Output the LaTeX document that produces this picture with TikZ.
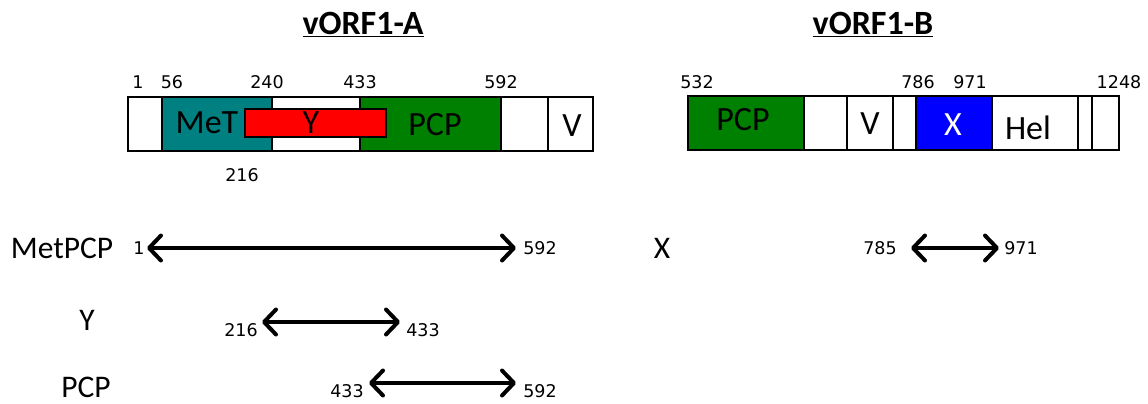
\documentclass[tikz,border=0pt]{standalone}
\usepackage{fontspec}
\setmainfont{Carlito}
\newfontfamily\numfont{DejaVu Sans}
\usetikzlibrary{arrows.meta}
\definecolor{metc}{RGB}{0,128,128}
\definecolor{pcpc}{RGB}{0,128,0}
\definecolor{yc}{RGB}{255,0,0}
\definecolor{xc}{RGB}{0,0,255}
\begin{document}
\begin{tikzpicture}[x=1pt,y=-1pt,
  seg/.style={draw=black, line width=1.1pt, inner sep=0pt, outer sep=0pt, anchor=north west, minimum height=54pt},
  num/.style={font=\numfont\fontsize{17.5}{20}\selectfont, inner sep=0pt},
  boxtxt/.style={font=\fontsize{34}{38}\selectfont, inner sep=0pt},
  rowlbl/.style={font=\fontsize{31.5}{36}\selectfont, inner sep=0pt},
  title/.style={font=\bfseries\fontsize{34}{40}\selectfont, inner sep=0pt, anchor=base},
  barb/.tip={Straight Barb[length=12pt,width=25pt,line cap=round,line join=round]},
  spanarrow/.style={line width=4pt, barb-barb}]
\useasboundingbox (0,0) rectangle (1148,404);

% titles
\node[title] (tA) at (363,35) {\underline{vORF1-A}};
\node[title] (tB) at (873,35) {\underline{vORF1-B}};

% vORF1-A segments
\node[seg, minimum width=34pt] (a0) at (128,97) {};
\node[seg, minimum width=110pt, fill=metc] (a1) at (162,97) {};
\node[seg, minimum width=88pt] (a2) at (272,97) {};
\node[seg, minimum width=141pt, fill=pcpc] (a3) at (360,97) {};
\node[seg, minimum width=47pt] (a4) at (501,97) {};
\node[seg, minimum width=45pt] (a5) at (548,97) {};
\node[seg, minimum width=141pt, minimum height=28pt, fill=yc] (ay) at (245,109) {};
\node[boxtxt] (tMeT) at (207,123) {MeT};
\node[boxtxt] (tY) at (311,123) {Y};
\node[boxtxt] (tPCPa) at (435,125) {PCP};
\node[boxtxt] (tVa) at (572,126) {V};

\node[num] (pa1) at (138,82) {1};
\node[num] (pa56) at (172,82) {56};
\node[num] (pa240) at (267,82) {240};
\node[num] (pa433) at (360,82) {433};
\node[num] (pa592) at (501,82) {592};
\node[num] (pa216) at (242,175) {216};

% vORF1-B segments
\node[seg, minimum width=116pt, fill=pcpc] (b0) at (688,96) {};
\node[seg, minimum width=43pt] (b1) at (804,96) {};
\node[seg, minimum width=46pt] (b2) at (847,96) {};
\node[seg, minimum width=23pt] (b3) at (893,96) {};
\node[seg, minimum width=76pt, fill=xc] (b4) at (916,96) {};
\node[seg, minimum width=86pt] (b5) at (992,96) {};
\node[seg, minimum width=14pt] (b6) at (1078,96) {};
\node[seg, minimum width=27pt] (b7) at (1092,96) {};
\node[boxtxt] (tPCPb) at (743,120) {PCP};
\node[boxtxt] (tVb) at (870,124) {V};
\node[boxtxt, text=white] (tX) at (953,125) {X};
\node[boxtxt] (tHel) at (1028,128) {Hel};

\node[num] (pb532) at (697,82) {532};
\node[num] (pb786) at (918,82) {786};
\node[num] (pb971) at (970,82) {971};
\node[num] (pb1248) at (1119,82) {1248};

% row labels
\node[rowlbl] (lMet) at (62,248) {MetPCP};
\node[rowlbl] (lY) at (87,320) {Y};
\node[rowlbl] (lPCP) at (86,387) {PCP};
\node[rowlbl] (lX) at (662,248) {X};

% spans
\node[num] (s1) at (139,248) {1};
\node[num] (s592a) at (540,248) {592};
\coordinate (m1) at (147,248);
\coordinate (m2) at (516,248);
\draw[spanarrow] (m1) -- (m2);

\node[num] (s216) at (241,330) {216};
\node[num] (s433a) at (423,330) {433};
\coordinate (y1) at (262,322);
\coordinate (y2) at (400,322);
\draw[spanarrow] (y1) -- (y2);

\node[num] (s433b) at (347,391) {433};
\node[num] (s592b) at (540,391) {592};
\coordinate (p1) at (369,383);
\coordinate (p2) at (516,383);
\draw[spanarrow] (p1) -- (p2);

\node[num] (s785) at (880,248) {785};
\node[num] (s971) at (1021,248) {971};
\coordinate (x1) at (911,248);
\coordinate (x2) at (999,248);
\draw[spanarrow] (x1) -- (x2);
\end{tikzpicture}
\end{document}
